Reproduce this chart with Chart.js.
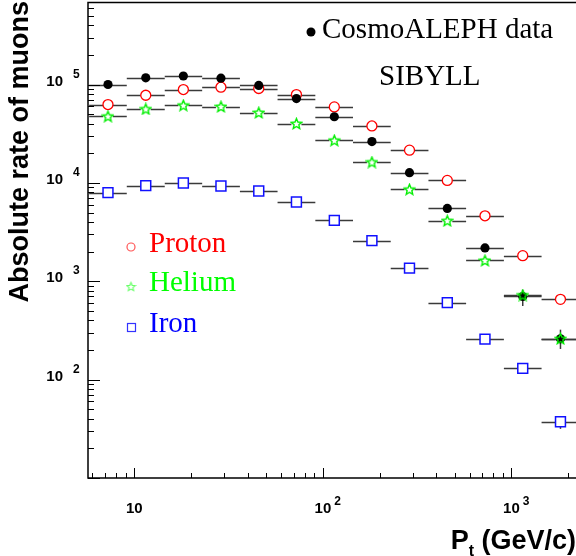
<!DOCTYPE html>
<html>
<head>
<meta charset="utf-8">
<script src="https://cdn.jsdelivr.net/npm/chart.js@4.4.1/dist/chart.umd.min.js"></script>
<style>
  body { margin: 0; background: #fff; }
  #wrap { width: 576px; height: 556px; }
</style>
</head>
<body>
<div id="wrap"><canvas id="muonChart" width="576" height="556"></canvas></div>
<script>
// Pt bins (GeV/c)
const ptCentre = [7.25, 11.5, 18.2, 28.8, 45.7, 72.4, 115, 182, 288, 457, 724, 1148, 1820];
const ptLow    = [5.76, 9.12, 14.5, 22.9, 36.3, 57.5, 91.2, 144.5, 229, 363, 575, 912, 1445];
const ptHigh   = [9.12, 14.5, 22.9, 36.3, 57.5, 91.2, 144.5, 229, 363, 575, 912, 1445, 2290];

// absolute muon rates
const cosmoAleph   = [100000, 117000, 122000, 116000, 98000, 72000, 47000, 26300, 12700, 5500, 2180, 700, 260];
const cosmoErrLow  = [null, null, null, null, null, null, null, null, null, null, null, 560, 205];
const cosmoErrHigh = [null, null, null, null, null, null, null, null, null, null, null, 820, 322];
const proton = [62600, 77800, 88900, 93900, 91100, 79100, 59200, 37900, 21500, 10600, 4630, 1820, 655];
const helium = [47600, 56500, 61600, 59700, 51900, 40100, 27100, 16300, 8610, 4130, 1630, 724, 261];
const iron   = [7960, 9390, 9980, 9300, 8270, 6390, 4160, 2590, 1360, 606, 258, 130, 37.3];
const ironErrLow  = [null, null, null, null, null, null, null, null, null, null, null, null, 31.6];
const ironErrHigh = [null, null, null, null, null, null, null, null, null, null, null, null, 42.3];

// axis ticks
const xMajor = [10, 100, 1000];
const xMajorExp = ['', '2', '3'];
const yMajor = [10, 100, 1000, 10000, 100000];
const yMajorExp = ['', '2', '3', '4', '5'];
const xDecades = [1, 10, 100, 1000];
const yDecades = [10, 100, 1000, 10000, 100000];
const minorSteps = [2, 3, 4, 5, 6, 7, 8, 9];

const FONT = '"Liberation Sans", Arial, sans-serif';
const SERIF = '"Liberation Serif", "Times New Roman", serif';

function starImage(size, color, lw) {
  const c = document.createElement('canvas');
  c.width = c.height = size;
  const g = c.getContext('2d');
  const cx = size / 2, cy = size / 2 + 0.5, R = size / 2 - 1, r = R * 0.45;
  g.beginPath();
  for (let k = 0; k < 10; k++) {
    const a = -Math.PI / 2 + k * Math.PI / 5;
    const rad = k % 2 ? r : R;
    g.lineTo(cx + rad * Math.cos(a), cy + rad * Math.sin(a));
  }
  g.closePath();
  g.strokeStyle = color;
  g.lineWidth = lw;
  g.stroke();
  return c;
}
const greenStar = starImage(13, '#00ee00', 1.4);
const legendStar = starImage(11, '#66ff66', 1.1);

function points(vals) {
  return ptCentre.map((x, i) => ({ x: x, y: vals[i] }));
}

function series(label, vals, extra) {
  return Object.assign({
    label: label,
    data: points(vals),
    xLow: ptLow,
    xHigh: ptHigh,
    barGap: 0
  }, extra);
}

// horizontal bin bars + the few vertical error bars
const errorBars = {
  id: 'errorBars',
  beforeDatasetsDraw(chart) {
    const { ctx, chartArea: a, scales: { x, y } } = chart;
    ctx.save();
    ctx.beginPath();
    ctx.rect(a.left, a.top, a.right - a.left + 20, a.bottom - a.top);
    ctx.clip();
    ctx.strokeStyle = '#3a3a3a';
    ctx.lineWidth = 1.5;
    chart.data.datasets.forEach(ds => {
      ds.data.forEach((p, i) => {
        const px = x.getPixelForValue(p.x);
        const py = Math.round(y.getPixelForValue(p.y)) + 0.5;
        const x0 = x.getPixelForValue(ds.xLow[i]);
        const x1 = x.getPixelForValue(ds.xHigh[i]);
        ctx.beginPath();
        ctx.moveTo(x0, py); ctx.lineTo(px - ds.barGap, py);
        ctx.moveTo(px + ds.barGap, py); ctx.lineTo(x1, py);
        ctx.stroke();
        if (ds.yLow && ds.yLow[i] != null) {
          ctx.beginPath();
          ctx.moveTo(px, y.getPixelForValue(ds.yLow[i]));
          ctx.lineTo(px, y.getPixelForValue(ds.yHigh[i]));
          ctx.stroke();
        }
      });
    });
    ctx.restore();
  }
};

function power(ctx, exp, x, y, align, size, supSize, gap) {
  ctx.font = 'bold ' + size + 'px ' + FONT;
  ctx.textAlign = align;
  ctx.fillText('10', x, y);
  if (exp) {
    const w = ctx.measureText('10').width;
    const right = align === 'center' ? x + w / 2 : x;
    ctx.font = 'bold ' + supSize + 'px ' + FONT;
    ctx.textAlign = 'left';
    ctx.fillText(exp, right + gap, y - 8);
  }
}

// frame, inward ticks, labels, titles and legend in ROOT style
const frameAndText = {
  id: 'frameAndText',
  afterDraw(chart) {
    const { ctx, chartArea: a, scales: { x, y } } = chart;
    ctx.save();
    ctx.strokeStyle = '#000';
    ctx.fillStyle = '#000';
    ctx.lineWidth = 1.5;
    ctx.beginPath();
    ctx.moveTo(a.right, a.top + 0.5); ctx.lineTo(a.left, a.top + 0.5);
    ctx.lineTo(a.left, a.bottom); ctx.lineTo(a.right, a.bottom);
    ctx.stroke();

    ctx.lineWidth = 1;
    ctx.beginPath();
    xDecades.forEach(d => {
      minorSteps.forEach(s => {
        const v = d * s;
        if (v < x.min || v > x.max) return;
        const px = Math.round(x.getPixelForValue(v)) + 0.5;
        ctx.moveTo(px, a.bottom); ctx.lineTo(px, a.bottom - 5);
      });
    });
    xMajor.forEach(v => {
      const px = Math.round(x.getPixelForValue(v)) + 0.5;
      ctx.moveTo(px, a.bottom); ctx.lineTo(px, a.bottom - 10);
    });
    yDecades.forEach(d => {
      minorSteps.forEach(s => {
        const v = d * s;
        if (v < y.min || v > y.max) return;
        const py = Math.round(y.getPixelForValue(v)) + 0.5;
        ctx.moveTo(a.left, py); ctx.lineTo(a.left + 6, py);
      });
    });
    yMajor.forEach(v => {
      const py = Math.round(y.getPixelForValue(v)) + 0.5;
      ctx.moveTo(a.left, py); ctx.lineTo(a.left + 12, py);
    });
    ctx.stroke();

    ctx.textBaseline = 'alphabetic';
    xMajor.forEach((v, i) => {
      power(ctx, xMajorExp[i], x.getPixelForValue(v), 513, 'center', 15, 12, 3);
    });
    yMajor.forEach((v, i) => {
      if (!yMajorExp[i]) return;
      power(ctx, yMajorExp[i], 63, y.getPixelForValue(v) + 1, 'right', 15, 12, 10);
    });

    // axis titles
    ctx.font = 'bold 27px ' + FONT;
    ctx.textAlign = 'right';
    ctx.fillText('(GeV/c)', 576, 549);
    const w = ctx.measureText(' (GeV/c)').width;
    ctx.font = 'bold 16px ' + FONT;
    ctx.fillText('t', 576 - w, 556);
    const wt = ctx.measureText('t').width;
    ctx.font = 'bold 27px ' + FONT;
    ctx.fillText('P', 576 - w - wt, 549);

    ctx.save();
    ctx.translate(28, 1);
    ctx.rotate(-Math.PI / 2);
    ctx.font = 'bold 27px ' + FONT;
    ctx.textAlign = 'right';
    ctx.fillText('Absolute rate of muons', 0, 0);
    ctx.restore();

    // legend
    ctx.textAlign = 'left';
    ctx.font = '29px ' + SERIF;
    ctx.beginPath();
    ctx.arc(311, 32, 4.5, 0, Math.PI * 2);
    ctx.fill();
    ctx.fillText('CosmoALEPH data', 322, 38);
    ctx.fillText('SIBYLL', 379, 85);

    ctx.fillStyle = '#ff0000';
    ctx.fillText('Proton', 149, 252);
    ctx.strokeStyle = '#ff5555';
    ctx.lineWidth = 1.2;
    ctx.beginPath();
    ctx.arc(131, 247, 4, 0, Math.PI * 2);
    ctx.stroke();

    ctx.fillStyle = '#00ff00';
    ctx.fillText('Helium', 149, 291);
    ctx.drawImage(legendStar, 125.5, 281);

    ctx.fillStyle = '#0000ff';
    ctx.fillText('Iron', 149, 332);
    ctx.strokeStyle = '#3333ff';
    ctx.strokeRect(127.5, 323.5, 8, 8);
    ctx.restore();
  }
};

new Chart(document.getElementById('muonChart'), {
  type: 'scatter',
  data: {
    datasets: [
      series('Helium', helium, {
        order: 0, pointStyle: greenStar, barGap: 5,
        pointBorderColor: '#00ee00', pointBackgroundColor: 'rgba(0,0,0,0)'
      }),
      series('CosmoALEPH data', cosmoAleph, {
        order: 1, pointStyle: 'circle', pointRadius: 4.6, pointBorderWidth: 0,
        pointBackgroundColor: '#000', pointBorderColor: '#000',
        yLow: cosmoErrLow, yHigh: cosmoErrHigh
      }),
      series('Proton', proton, {
        order: 2, pointStyle: 'circle', pointRadius: 5, pointBorderWidth: 1.3,
        pointBackgroundColor: '#fff', pointBorderColor: '#ff0000'
      }),
      series('Iron', iron, {
        order: 3, pointStyle: 'rect', pointRadius: 7, pointBorderWidth: 1.5,
        pointBackgroundColor: '#fff', pointBorderColor: '#1010ff',
        yLow: ironErrLow, yHigh: ironErrHigh
      })
    ]
  },
  options: {
    responsive: false,
    animation: false,
    events: [],
    layout: { autoPadding: false, padding: { left: 88, top: 2, right: 0, bottom: 78 } },
    scales: {
      x: { type: 'logarithmic', min: 5.68, max: 2200, display: false },
      y: { type: 'logarithmic', min: 10, max: 690000, display: false }
    },
    plugins: {
      legend: { display: false },
      tooltip: { enabled: false }
    }
  },
  plugins: [errorBars, frameAndText]
});
</script>
</body>
</html>
